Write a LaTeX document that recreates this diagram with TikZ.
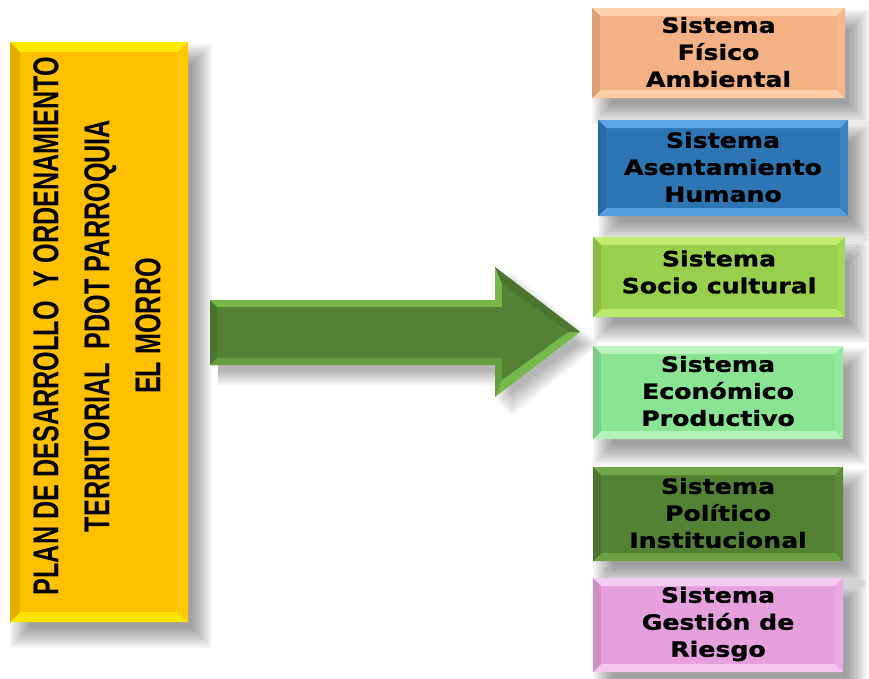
\documentclass[tikz,border=0pt]{standalone}
\usepackage{fontspec}
\newfontfamily\lefttxt[FakeStretch=0.7]{Liberation Sans Bold}
\newfontfamily\boxtxt[FakeStretch=1.2,FakeBold=1.2]{DejaVu Sans Bold}
\definecolor{cyel}{HTML}{FFC000}\definecolor{cyelL}{HTML}{FFEA00}
\definecolor{cpea}{HTML}{F4B183}\definecolor{cpeaL}{HTML}{FBD3AE}
\definecolor{cblu}{HTML}{2E75B6}\definecolor{cbluL}{HTML}{5DA6E6}
\definecolor{csoc}{HTML}{98D04E}\definecolor{csocL}{HTML}{C2EC72}
\definecolor{ceco}{HTML}{8BE394}\definecolor{cecoL}{HTML}{B8F6BE}
\definecolor{cpol}{HTML}{548235}\definecolor{cpolL}{HTML}{70A848}
\definecolor{crie}{HTML}{E6A0DE}\definecolor{crieL}{HTML}{F6CBF1}
\definecolor{carr}{HTML}{548235}\definecolor{carrL}{HTML}{76B84C}
\tikzset{
  boxlabel/.style={align=center,text=black,inner sep=0pt,font=\boxtxt\fontsize{21}{27}\selectfont},
  planlabel/.style={align=center,text=black,inner sep=0pt,rotate=90,font=\lefttxt\fontsize{36}{51}\selectfont}
}
% #1 x1, #2 y1, #3 x2, #4 y2, #5 base, #6 light, #7 bevel
\newcommand\bevbox[7]{%
  \foreach \s in {-8,-6,...,12}{
    \fill[black,opacity=0.04] ({#1+12-\s},{#2+14-\s}) rectangle ({#3+12+\s},{#4+14+\s});}
  \fill[#5] (#1,#2) rectangle (#3,#4);
  \fill[#6] (#1,#2) -- (#3,#2) -- ({#3-#7},{#2+#7}) -- ({#1+#7},{#2+#7}) -- cycle;
  \fill[#6!85!#5] (#1,#4) -- (#3,#4) -- ({#3-#7},{#4-#7}) -- ({#1+#7},{#4-#7}) -- cycle;
  \fill[#5!90!black] (#1,#2) -- ({#1+#7},{#2+#7}) -- ({#1+#7},{#4-#7}) -- (#1,#4) -- cycle;
  \fill[#6!25!#5] (#3,#2) -- ({#3-#7},{#2+#7}) -- ({#3-#7},{#4-#7}) -- (#3,#4) -- cycle;
}
\begin{document}
\begin{tikzpicture}[x=1pt,y=-1pt]
\useasboundingbox (0,0) rectangle (869,678);
\fill[white] (0,0) rectangle (869,678);

% left box
\bevbox{10}{42}{188}{622}{cyel}{cyelL}{10}
\node[planlabel] (plan) at (97,326) {PLAN DE DESARROLLO \ Y ORDENAMIENTO\\TERRITORIAL \ PDOT PARROQUIA\\EL MORRO};

% arrow
\coordinate (a1) at (210,300); \coordinate (a2) at (495,300); \coordinate (a3) at (495,267);
\coordinate (tip) at (580,332); \coordinate (a5) at (495,397); \coordinate (a6) at (495,365);
\coordinate (a7) at (210,365);
\foreach \s in {-6,-4,...,8}{
  \fill[black,opacity=0.04] ([shift={(8,12-\s)}]a1) -- ([shift={(8+\s,12-\s)}]a2) -- ([shift={(8+\s,12-\s)}]a3) -- ([shift={(8+1.4*\s,12)}]tip) -- ([shift={(8+\s,12+\s)}]a5) -- ([shift={(8+\s,12+\s)}]a6) -- ([shift={(8,12+\s)}]a7) -- cycle;}
\fill[carrL] (a1) -- (a2) -- (a3) -- (tip) -- (a5) -- (a6) -- (a7) -- cycle;
\fill[carr!88!black] (a1) -- (217,307) -- (217,358) -- (a7) -- cycle;
\fill[carrL!50!carr] (a7) -- (217,358) -- (502,358) -- (502,380) -- (a5) -- (a6) -- cycle;
\fill[carr] (217,307) -- (502,307) -- (502,284) -- (568,332) -- (502,380) -- (502,358) -- (217,358) -- cycle;
\fill[carr!90!black] (502,284) -- (a3) -- (tip) -- (568,332) -- cycle;

% right boxes
\bevbox{592}{8}{845}{98}{cpea}{cpeaL}{8}
\node[boxlabel] (b1) at (718.5,52) {Sistema\\Físico\\Ambiental};
\bevbox{598}{120}{848}{216}{cblu}{cbluL}{8}
\node[boxlabel] (b2) at (723,167) {Sistema\\Asentamiento\\Humano};
\bevbox{593}{237}{845}{317}{csoc}{csocL}{8}
\node[boxlabel] (b3) at (719,272) {Sistema\\Socio cultural};
\bevbox{593}{346}{843}{439}{ceco}{cecoL}{8}
\node[boxlabel] (b4) at (718,391) {Sistema\\Económico\\Productivo};
\bevbox{593}{467}{843}{561}{cpol}{cpolL}{8}
\node[boxlabel] (b5) at (718,513) {Sistema\\Político\\Institucional};
\bevbox{593}{578}{843}{672}{crie}{crieL}{8}
\node[boxlabel] (b6) at (718,624) {Sistema\\Gestión de\\Riesgo};
\end{tikzpicture}
\end{document}
